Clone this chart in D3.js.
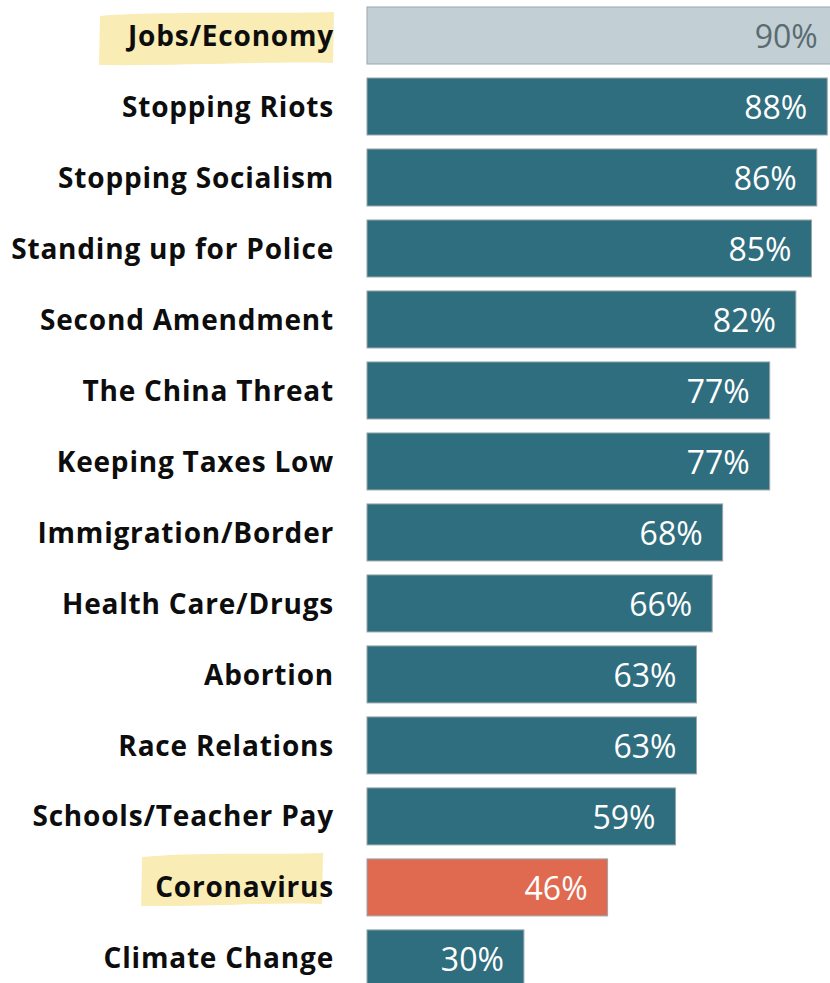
<!DOCTYPE html>
<html>
<head>
<meta charset="utf-8">
<script src="https://cdn.jsdelivr.net/npm/d3@7"></script>
<style>
  body { margin: 0; background: #fff; }
  svg { display: block; }
</style>
</head>
<body>
<div id="chart"></div>
<script>
// issues and share calling each one important
var issues = ["Jobs/Economy", "Stopping Riots", "Stopping Socialism", "Standing up for Police",
  "Second Amendment", "The China Threat", "Keeping Taxes Low", "Immigration/Border",
  "Health Care/Drugs", "Abortion", "Race Relations", "Schools/Teacher Pay",
  "Coronavirus", "Climate Change"];
var shares = [90, 88, 86, 85, 82, 77, 77, 68, 66, 63, 63, 59, 46, 30];
var highlighted = ["Jobs/Economy", "Coronavirus"];

var width = 830, height = 983;

var svg = d3.select("#chart").append("svg")
  .attr("width", width)
  .attr("height", height);

var x = d3.scaleLinear().domain([0, 100]).range([367, 890]);
var y = d3.scaleBand().domain(issues).range([-0.1, 994]).paddingInner(0.197).paddingOuter(0.1);

function barFill(d, i) {
  if (i === 0) return "#c2d0d6";
  if (d === "Coronavirus") return "#e06a50";
  return "#2f6e7e";
}

// hand-drawn yellow marker behind two labels
var hl = svg.append("g");

var labels = svg.append("g").selectAll("text")
  .data(issues).join("text")
  .attr("x", 334)
  .attr("y", d => y(d) + y.bandwidth() / 2)
  .attr("dy", "0.36em")
  .attr("text-anchor", "end")
  .attr("font-family", "'Open Sans', sans-serif")
  .attr("font-weight", "bold")
  .attr("font-size", 28)
  .attr("letter-spacing", 0.8)
  .attr("fill", "#0d0d0d")
  .text(d => d);

labels.filter(d => highlighted.includes(d)).each(function (d) {
  var b = this.getBBox();
  var x0 = b.x - (d === "Coronavirus" ? 15 : 27), x1 = b.x + b.width - (d === "Coronavirus" ? 11 : 0);
  var y0 = y(d) + (d === "Coronavirus" ? -6 : 5), y1 = y0 + 53;
  var p = d3.path();
  p.moveTo(x0 + 2, y0 + 4);
  p.bezierCurveTo(x0 + 60, y0 - 1, x1 - 60, y0 + 2, x1, y0);
  p.lineTo(x1 - 1, y1 - 2);
  p.bezierCurveTo(x1 - 60, y1 - 4, x0 + 80, y1 + 1, x0 + 1, y1);
  p.closePath();
  hl.append("path").attr("d", p.toString()).attr("fill", "#f9ecb4");
});

svg.append("g").selectAll("rect")
  .data(issues).join("rect")
  .attr("x", x(0))
  .attr("y", d => y(d))
  .attr("width", (d, i) => x(shares[i]) - x(0))
  .attr("height", y.bandwidth())
  .attr("fill", barFill)
  .attr("stroke", "#9aa6aa")
  .attr("stroke-width", 1);

svg.append("g").selectAll("text")
  .data(issues).join("text")
  .attr("x", (d, i) => x(shares[i]) - 20)
  .attr("y", d => y(d) + y.bandwidth() / 2)
  .attr("dy", "0.38em")
  .attr("text-anchor", "end")
  .attr("font-family", "'Open Sans', sans-serif")
  .attr("font-size", 32)
  .attr("fill", (d, i) => i === 0 ? "#5b6b70" : "#ffffff")
  .text((d, i) => shares[i] + "%");
</script>
</body>
</html>
